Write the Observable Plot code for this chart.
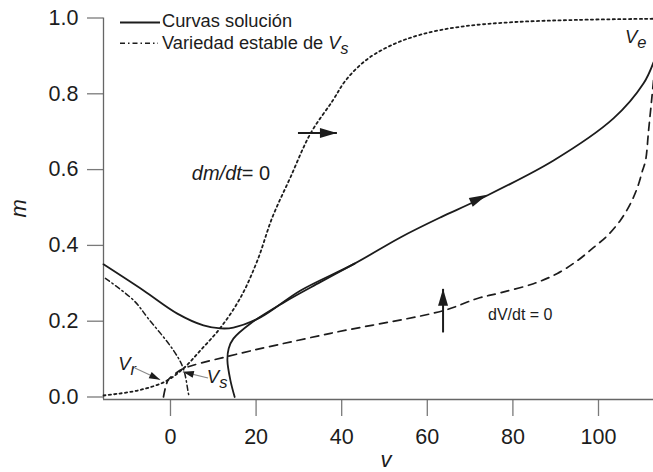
<!DOCTYPE html>
<html>
<head>
<meta charset="utf-8">
<script src="https://cdn.jsdelivr.net/npm/d3@7"></script>
<script src="https://cdn.jsdelivr.net/npm/@observablehq/plot@0.6"></script>
<style>
  html, body { margin: 0; padding: 0; background: #fff; }
  #chart svg { display: block; }
</style>
</head>
<body>
<div id="chart"></div>
<script>
// Axis ticks
const xTicks = [0, 20, 40, 60, 80, 100];
const yTicks = [0, 0.2, 0.4, 0.6, 0.8, 1.0];
const xDomain = [-15.65, 112.85];
const yDomain = [-0.0066, 1.0];

// dm/dt = 0 nullcline (dotted)
const mNullV = [-15.65, -7.7, -1.2, 3.0, 7.0, 11.7, 16.4, 20.3, 23.8, 28.0, 32.7, 37.9, 40.9, 45.6, 51.4, 58.4, 67.8, 80.0, 95.0, 112.85];
const mNullM = [0.004, 0.017, 0.041, 0.075, 0.123, 0.183, 0.263, 0.36, 0.474, 0.579, 0.695, 0.782, 0.835, 0.888, 0.927, 0.956, 0.977, 0.989, 0.995, 0.998];

// dV/dt = 0 nullcline (dashed)
const vNullV = [-1.64, -1.17, -0.47, 1.17, 3.04, 13.3, 37.4, 63.8, 71.7, 77.1, 84.8, 90.4, 95.1, 98.8, 102.1, 105.1, 107.5, 109.1, 110.3, 111.0, 111.7, 112.4, 112.85];
const vNullM = [0.0, 0.025, 0.046, 0.062, 0.075, 0.107, 0.168, 0.228, 0.26, 0.275, 0.299, 0.326, 0.36, 0.394, 0.426, 0.466, 0.511, 0.553, 0.598, 0.624, 0.703, 0.782, 0.835];

// Stable manifold of V_s (dash-dot)
const manifoldV = [-15.2, -8.6, -5.4, 0.7, 3.0, 4.2, 4.4];
const manifoldM = [0.313, 0.255, 0.21, 0.123, 0.075, 0.009, 0.0];

// Solution curve from the upper left, running out to V_e
const solAV = [-15.65, -6.3, 1.6, 7.7, 11.7, 14.7, 21.0, 30.4, 43.0, 53.7, 63.1, 71.7, 89.5, 103.5, 110.5, 112.85];
const solAM = [0.350, 0.281, 0.220, 0.189, 0.181, 0.183, 0.210, 0.281, 0.352, 0.421, 0.474, 0.519, 0.624, 0.735, 0.827, 0.883];

// Solution curve rising from the V axis
const solBV = [15.0, 14.0, 13.3, 13.6, 14.7, 18.7, 26.4, 35.0, 43.0];
const solBM = [0.0, 0.044, 0.096, 0.128, 0.154, 0.194, 0.249, 0.303, 0.352];

// Arrows: tail and tip (nullcline crossings, then the V_r / V_s pointers)
const arrowTailV = [29.9, 63.8, -8.2, 8.9];
const arrowTailM = [0.695, 0.169, 0.075, 0.049];
const arrowTipV = [39.0, 63.8, -2.3, 3.0];
const arrowTipM = [0.695, 0.284, 0.044, 0.065];

// Direction arrow on the solution curve
const flowBackV = 71.0, flowBackM = 0.516;
const flowTipV = 74.1, flowTipM = 0.532;

// Equilibrium labels
const eqSub = ["r", "s", "e"];
const eqV = [-12.1, 8.6, 106.3];
const eqM = [0.070, 0.036, 0.932];

// Nullcline labels
const mNullLabel = {v: 5.1, m: 0.571};
const vNullLabel = {v: 74.3, m: 0.202};

const FONT = "'Liberation Sans', Arial, Helvetica, sans-serif";
const INK = "#1c1c1c";

const zip = (vs, ms) => vs.map((v, i) => ({v, m: ms[i]}));
const mNull = zip(mNullV, mNullM);
const vNull = zip(vNullV, vNullM);
const manifold = zip(manifoldV, manifoldM);
const solA = zip(solAV, solAM);
const solB = zip(solBV, solBM);

function head(g, tx, ty, fx, fy, L, W) {
  const dx = tx - fx, dy = ty - fy, n = Math.hypot(dx, dy) || 1;
  const ux = dx / n, uy = dy / n, px = -uy, py = ux;
  const bx = tx - L * ux, by = ty - L * uy;
  g.append("path")
    .attr("d", `M${tx},${ty}L${bx + px * W / 2},${by + py * W / 2}L${bx - px * W / 2},${by - py * W / 2}Z`)
    .attr("fill", INK);
}

// Annotations: arrows, labels, axis titles and legend
function annotations(index, scales, values, dims) {
  const x = scales.x, y = scales.y;
  const g = d3.create("svg:g")
    .attr("font-family", FONT)
    .attr("fill", INK)
    .attr("text-anchor", "start");

  arrowTailV.forEach((_, i) => {
    const x1 = x(arrowTailV[i]), y1 = y(arrowTailM[i]);
    const x2 = x(arrowTipV[i]), y2 = y(arrowTipM[i]);
    const strong = i < 2;
    g.append("line")
      .attr("x1", x1).attr("y1", y1).attr("x2", x2).attr("y2", y2)
      .attr("stroke", strong ? INK : "#8a8a8a")
      .attr("stroke-width", strong ? 2 : 1.1);
    if (strong) head(g, x2, y2, x1, y1, 17, 10);
    else head(g, x2, y2, x1, y1, 11, 7);
  });

  head(g, x(flowTipV), y(flowTipM), x(flowBackV), y(flowBackM), 18, 9.5);

  // V_r, V_s, V_e
  eqSub.forEach((s, i) => {
    const t = g.append("text")
      .attr("x", x(eqV[i])).attr("y", y(eqM[i]))
      .attr("font-size", 18.5).attr("font-style", "italic");
    t.append("tspan").text("V");
    t.append("tspan").attr("dy", 5).attr("font-size", 16.5).text(s);
  });

  const tm = g.append("text")
    .attr("x", x(mNullLabel.v)).attr("y", y(mNullLabel.m))
    .attr("font-size", 20);
  tm.append("tspan").attr("font-style", "italic").text("dm/dt");
  tm.append("tspan").text("= 0");

  g.append("text")
    .attr("x", x(vNullLabel.v)).attr("y", y(vNullLabel.m))
    .attr("font-size", 16).text("dV/dt = 0");

  // Axis titles
  const left = dims.marginLeft, top = dims.marginTop;
  const right = dims.width - dims.marginRight, bottom = dims.height - dims.marginBottom;
  g.append("text")
    .attr("x", (left + right) / 2 + 8).attr("y", bottom + 68)
    .attr("text-anchor", "middle").attr("font-size", 22).attr("font-style", "italic")
    .text("v");
  g.append("text")
    .attr("transform", `translate(${left - 77},${(top + bottom) / 2}) rotate(-90)`)
    .attr("text-anchor", "middle").attr("font-size", 22).attr("font-style", "italic")
    .text("m");

  // Legend
  const lx = left + 17;
  g.append("line").attr("x1", lx).attr("x2", lx + 40)
    .attr("y1", top + 5).attr("y2", top + 5)
    .attr("stroke", INK).attr("stroke-width", 1.8);
  g.append("line").attr("x1", lx).attr("x2", lx + 38)
    .attr("y1", top + 25.8).attr("y2", top + 25.8)
    .attr("stroke", INK).attr("stroke-width", 1.5).attr("stroke-dasharray", "5,3,1.5,3");
  g.append("text").attr("x", lx + 42).attr("y", top + 9.5)
    .attr("font-size", 18.3).text("Curvas solución");
  const t2 = g.append("text").attr("x", lx + 42).attr("y", top + 31)
    .attr("font-size", 18.3);
  t2.append("tspan").text("Variedad estable de ");
  t2.append("tspan").attr("font-style", "italic").text("V");
  t2.append("tspan").attr("font-style", "italic").attr("dy", 5).attr("font-size", 16).text("s");

  return g.node();
}

const chart = Plot.plot({
  width: 653,
  height: 472,
  marginLeft: 103,
  marginRight: 0,
  marginTop: 17.5,
  marginBottom: 73,
  x: {domain: xDomain},
  y: {domain: yDomain},
  style: {fontFamily: FONT, fontSize: "21.5px", color: INK, background: "#fff", overflow: "visible"},
  marks: [
    Plot.axisY({ticks: yTicks, tickSize: 16, tickPadding: 9, tickFormat: d => d.toFixed(1),
      stroke: "#7a7a7a", strokeWidth: 1.3, fill: INK, fontSize: 21.5, label: null}),
    Plot.axisX({ticks: xTicks, tickSize: 17, tickPadding: 12, tickFormat: d => String(d),
      stroke: "#7a7a7a", strokeWidth: 1.3, fill: INK, fontSize: 21.5, label: null}),
    Plot.ruleX([xDomain[0]], {stroke: "#666", strokeWidth: 1.3}),
    Plot.ruleY([yDomain[0]], {stroke: "#666", strokeWidth: 1.3}),
    Plot.line(mNull, {x: "v", y: "m", curve: "catmull-rom", stroke: INK, strokeWidth: 1.8, strokeDasharray: "2.2,3.2"}),
    Plot.line(vNull, {x: "v", y: "m", curve: "catmull-rom", stroke: INK, strokeWidth: 1.7, strokeDasharray: "8,6"}),
    Plot.line(manifold, {x: "v", y: "m", curve: "catmull-rom", stroke: INK, strokeWidth: 1.5, strokeDasharray: "5,3,1.5,3"}),
    Plot.line(solA, {x: "v", y: "m", curve: "catmull-rom", stroke: INK, strokeWidth: 1.8}),
    Plot.line(solB, {x: "v", y: "m", curve: "catmull-rom", stroke: INK, strokeWidth: 1.8}),
    annotations
  ]
});

document.getElementById("chart").appendChild(chart);
</script>
</body>
</html>
